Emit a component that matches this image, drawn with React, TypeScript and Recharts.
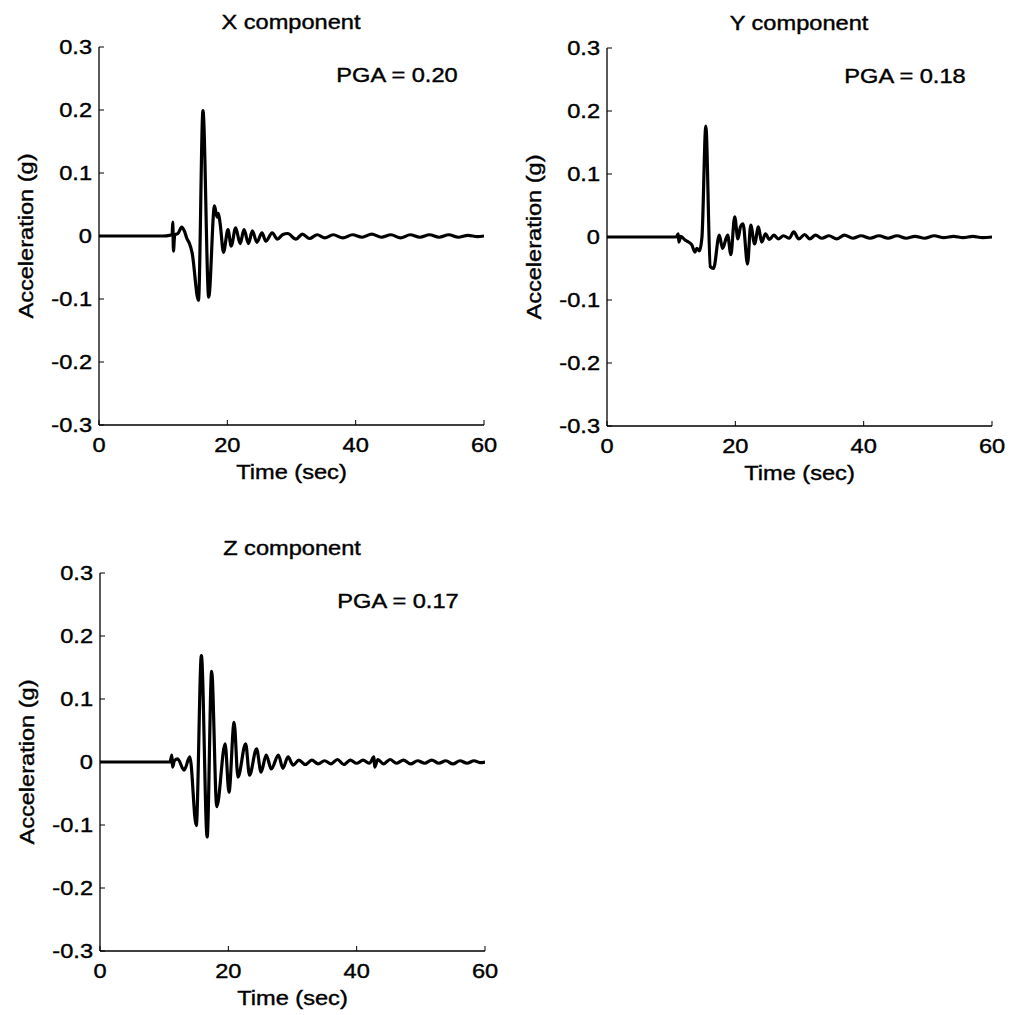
import React from 'react';
import { LineChart, Line, XAxis, YAxis } from 'recharts';

// time (s) and acceleration (g)
const X_TIME = [0, 5, 10, 11.0, 11.4, 11.5, 11.6, 11.8, 12.3, 12.9, 13.3, 13.7, 14.1, 14.5, 15.5, 16.2, 17.1, 18.0, 18.4, 18.6, 18.9, 19.4, 20.1, 20.6, 21.3, 22.0, 22.6, 23.3, 23.9, 24.6, 25.4, 26.0, 27.0, 27.8, 28.6, 29.4, 30.7, 31.7, 32.8, 34.0, 35.2, 36.5, 38.0, 39.5, 41.0, 42.5, 44.0, 45.5, 47.0, 48.5, 50.0, 51.5, 53.0, 54.5, 56.0, 57.5, 59.0, 60];
const X_ACC = [0, 0, 0, 0.001, 0.003, 0.022, -0.024, 0.002, 0.004, 0.014, 0.008, -0.004, -0.012, -0.026, -0.102, 0.199, -0.097, 0.048, 0.03, 0.036, 0.018, -0.026, 0.01, -0.016, 0.013, -0.012, 0.01, -0.012, 0.008, -0.01, 0.005, -0.008, 0.005, -0.005, 0.002, 0.004, -0.005, 0.003, -0.004, 0.002, -0.003, 0.002, -0.003, 0.002, -0.002, 0.003, -0.002, 0.002, -0.003, 0.002, -0.002, 0.002, -0.002, 0.002, -0.002, 0.001, -0.001, 0];

const Y_TIME = [0, 5, 10.8, 11.1, 11.2, 11.5, 12.2, 12.7, 13.2, 13.7, 14.0, 14.4, 14.8, 15.4, 16.1, 16.6, 17.5, 18.0, 18.8, 19.3, 19.9, 20.4, 20.8, 21.2, 21.9, 22.4, 23.0, 23.6, 24.1, 24.7, 25.3, 26.0, 26.7, 27.5, 28.4, 29.1, 29.9, 30.8, 31.6, 32.5, 33.5, 34.6, 35.8, 37.0, 38.3, 39.6, 41.0, 42.4, 43.8, 45.2, 46.6, 48.0, 49.5, 51.0, 52.5, 54.0, 55.5, 57.0, 58.5, 60];
const Y_ACC = [0, 0, 0, 0.005, -0.008, 0.001, -0.005, -0.008, -0.012, -0.024, -0.018, -0.022, 0.0, 0.176, -0.047, -0.05, 0.003, -0.018, 0.003, -0.028, 0.032, -0.003, 0.016, 0.021, -0.043, 0.019, -0.011, 0.016, -0.008, 0.005, -0.004, 0.003, -0.003, 0.002, -0.002, 0.008, -0.003, 0.004, -0.003, 0.003, -0.002, 0.002, -0.003, 0.003, -0.002, 0.002, -0.002, 0.002, -0.002, 0.002, -0.002, 0.001, -0.002, 0.002, -0.001, 0.001, -0.001, 0.001, -0.001, 0];

const Z_TIME = [0, 5, 10.9, 11.2, 11.3, 11.6, 12.1, 13.1, 14.0, 15.0, 15.8, 16.7, 17.4, 18.2, 19.5, 20.1, 20.9, 21.5, 22.7, 23.3, 24.4, 25.1, 25.9, 26.7, 27.8, 28.5, 29.3, 30.1, 31.0, 32.0, 33.0, 34.0, 35.0, 36.0, 37.0, 38.0, 39.0, 40.0, 41.0, 42.0, 42.7, 42.8, 43.3, 44.2, 45.2, 46.2, 47.3, 48.4, 49.5, 50.6, 51.7, 52.8, 53.9, 55.0, 56.1, 57.2, 58.3, 59.2, 60];
const Z_ACC = [0, 0, 0, 0.011, -0.008, 0.002, 0.005, -0.013, 0.008, -0.101, 0.169, -0.119, 0.144, -0.071, 0.029, -0.048, 0.063, -0.024, 0.029, -0.021, 0.021, -0.016, 0.011, -0.011, 0.011, -0.01, 0.008, -0.005, 0.003, -0.004, 0.003, -0.003, 0.002, -0.003, 0.004, -0.004, 0.003, -0.002, 0.003, -0.002, 0.008, -0.008, 0.004, -0.003, 0.004, -0.002, 0.003, -0.003, 0.002, -0.002, 0.003, -0.002, 0.002, -0.003, 0.002, -0.002, 0.002, -0.001, 0];

const TIME_TICKS = [0, 20, 40, 60];
const ACC_TICKS = [-0.3, -0.2, -0.1, 0, 0.1, 0.2, 0.3];

const FONT = '"Liberation Sans", Arial, sans-serif';
const FS = 20;
const SX = 1.18; // the original lettering is wider than Arial
const TICK_LEN = 5;

const toRows = (t: number[], a: number[]) => t.map((v, i) => ({ t: v, a: a[i] }));

// svg text stretched along its own baseline
function SText({ x, y, anchor = 'middle', rotate = 0, baseline, children }: any) {
  return (
    <text
      transform={`translate(${x},${y}) rotate(${rotate}) scale(${SX},1)`}
      x={0}
      y={0}
      textAnchor={anchor}
      dominantBaseline={baseline}
      fontFamily={FONT}
      fontSize={FS}
      fill="#000"
      stroke="#000"
      strokeWidth={0.4}
    >
      {children}
    </text>
  );
}

function BottomTick({ x, y, payload }: any) {
  return (
    <g>
      <line x1={x} y1={y} x2={x} y2={y - TICK_LEN} stroke="#000" />
      <SText x={x} y={y + 27}>{payload.value}</SText>
    </g>
  );
}

function LeftTick({ x, y, payload }: any) {
  return (
    <g>
      <line x1={x} y1={y} x2={x + TICK_LEN} y2={y} stroke="#000" />
      <SText x={x - 7} y={y + 7} anchor="end">{String(payload.value)}</SText>
    </g>
  );
}

function TopTick({ x, y }: any) {
  return <line x1={x} y1={y} x2={x} y2={y + TICK_LEN} stroke="#000" />;
}

function RightTick({ x, y }: any) {
  return <line x1={x} y1={y} x2={x - TICK_LEN} y2={y} stroke="#000" />;
}

interface PanelProps {
  left: number;
  top: number;
  time: number[];
  acc: number[];
  title: string;
  pga: string;
}

function Panel({ left, top, time, acc, title, pga }: PanelProps) {
  const data = toRows(time, acc);
  const textStyle: React.CSSProperties = {
    position: 'absolute',
    transform: `translate(-50%, -50%) scaleX(${SX})`,
    fontFamily: FONT,
    fontSize: FS,
    lineHeight: 1,
    whiteSpace: 'nowrap',
    color: '#000',
    WebkitTextStroke: '0.4px #000',
  };
  return (
    <>
      <div style={{ position: 'absolute', left: left - 100, top: top - 50 }}>
        <LineChart width={505} height={498} data={data} margin={{ top: 50, right: 20, bottom: 10, left: 40 }}>
          <XAxis
            type="number"
            dataKey="t"
            domain={[0, 60]}
            ticks={TIME_TICKS}
            interval={0}
            allowDataOverflow
            height={60}
            tickSize={0}
            tickMargin={0}
            tickLine={false}
            axisLine={{ stroke: '#000', strokeWidth: 1.3 }}
            tick={<BottomTick />}
            label={{
              content: ({ viewBox }: any) => (
                <SText x={viewBox.x + viewBox.width / 2} y={viewBox.y + 54}>
                  Time (sec)
                </SText>
              ),
            }}
          />
          <XAxis
            xAxisId="top"
            orientation="top"
            type="number"
            dataKey="t"
            domain={[0, 60]}
            ticks={TIME_TICKS}
            interval={0}
            height={0}
            tickSize={0}
            tickMargin={0}
            tickLine={false}
            axisLine={{ stroke: '#000', strokeWidth: 1.3 }}
            tick={<TopTick />}
          />
          <YAxis
            type="number"
            dataKey="a"
            domain={[-0.3, 0.3]}
            ticks={ACC_TICKS}
            interval={0}
            allowDataOverflow
            width={60}
            tickSize={0}
            tickMargin={0}
            tickLine={false}
            axisLine={{ stroke: '#000', strokeWidth: 1.3 }}
            tick={<LeftTick />}
            label={{
              content: ({ viewBox }: any) => (
                <SText
                  x={viewBox.x + viewBox.width - 73}
                  y={viewBox.y + viewBox.height / 2}
                  rotate={-90}
                  baseline="central"
                >
                  Acceleration (g)
                </SText>
              ),
            }}
          />
          <YAxis
            yAxisId="right"
            orientation="right"
            type="number"
            dataKey="a"
            domain={[-0.3, 0.3]}
            ticks={ACC_TICKS}
            interval={0}
            width={0}
            tickSize={0}
            tickMargin={0}
            tickLine={false}
            axisLine={{ stroke: '#000', strokeWidth: 1.3 }}
            tick={<RightTick />}
          />
          <Line
            type="monotone"
            dataKey="a"
            stroke="#000"
            strokeWidth={3.2}
            dot={false}
            isAnimationActive={false}
          />
        </LineChart>
      </div>
      <div style={{ ...textStyle, left: left + 192, top: top - 25 }}>{title}</div>
      <div style={{ ...textStyle, left: left + 298, top: top + 28 }}>{pga}</div>
    </>
  );
}

export default function App() {
  return (
    <div
      style={{
        position: 'absolute',
        left: 0,
        top: 0,
        width: 1012,
        height: 1015,
        background: '#fff',
        overflow: 'hidden',
      }}
    >
      <Panel left={99} top={47} time={X_TIME} acc={X_ACC} title="X component" pga="PGA = 0.20" />
      <Panel left={607} top={48} time={Y_TIME} acc={Y_ACC} title="Y component" pga="PGA = 0.18" />
      <Panel left={100} top={573} time={Z_TIME} acc={Z_ACC} title="Z component" pga="PGA = 0.17" />
    </div>
  );
}
